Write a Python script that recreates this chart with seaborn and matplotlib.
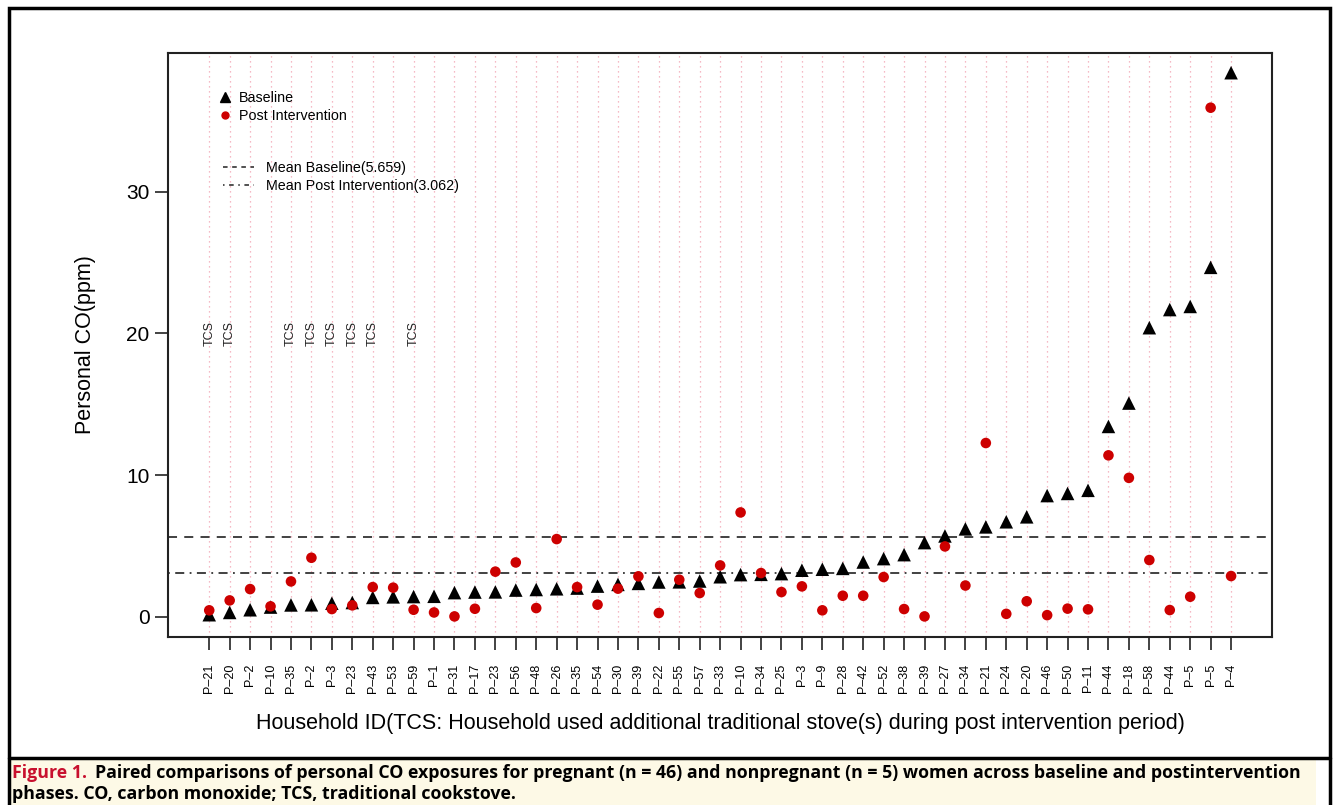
import matplotlib
matplotlib.use("Agg")
import matplotlib.pyplot as plt
import matplotlib.font_manager as fm
from matplotlib.lines import Line2D
from matplotlib.patches import Rectangle
import seaborn as sns
import pandas as pd

# household ids, ordered by baseline exposure
household_ids = ["P-21", "P-20", "P-2", "P-10", "P-35", "P-2", "P-3", "P-23", "P-43", "P-53",
                 "P-59", "P-1", "P-31", "P-17", "P-23", "P-56", "P-48", "P-26", "P-35", "P-54",
                 "P-30", "P-39", "P-22", "P-55", "P-57", "P-33", "P-10", "P-34", "P-25", "P-3",
                 "P-9", "P-28", "P-42", "P-52", "P-38", "P-39", "P-27", "P-34", "P-21", "P-24",
                 "P-20", "P-46", "P-50", "P-11", "P-44", "P-18", "P-58", "P-44", "P-5", "P-5", "P-4"]

# personal CO (ppm) at baseline
baseline = [0.14, 0.30, 0.49, 0.68, 0.83, 0.84, 0.95, 1.00, 1.36, 1.40,
            1.42, 1.44, 1.70, 1.74, 1.75, 1.88, 1.92, 1.97, 2.02, 2.16,
            2.28, 2.35, 2.45, 2.46, 2.52, 2.82, 2.97, 2.99, 3.04, 3.28,
            3.35, 3.41, 3.86, 4.10, 4.38, 5.23, 5.70, 6.20, 6.34, 6.70,
            7.05, 8.55, 8.70, 8.92, 13.43, 15.08, 20.40, 21.68, 21.90, 24.66, 38.40]

# personal CO (ppm) post intervention
post = [0.45, 1.15, 1.95, 0.73, 2.49, 4.16, 0.54, 0.80, 2.09, 2.05,
        0.49, 0.30, 0.02, 0.56, 3.18, 3.83, 0.61, 5.48, 2.09, 0.85,
        1.98, 2.85, 0.26, 2.61, 1.67, 3.62, 7.36, 3.08, 1.74, 2.14,
        0.45, 1.48, 1.48, 2.80, 0.54, 0.02, 4.96, 2.20, 12.26, 0.20,
        1.09, 0.11, 0.57, 0.52, 11.39, 9.80, 4.00, 0.47, 1.41, 35.93, 2.87]

# households that also used a traditional cookstove after the intervention
tcs_positions = [0, 1, 4, 5, 6, 7, 8, 10]

mean_baseline = 5.659
mean_post = 3.062

caption_head = "Figure 1."
caption_line1 = ("Paired comparisons of personal CO exposures for pregnant (n = 46) and nonpregnant "
                 "(n = 5) women across baseline and postintervention")
caption_line2 = "phases. CO, carbon monoxide; TCS, traditional cookstove."

sns.set_theme(style="white")
plt.rcParams["font.family"] = ["Liberation Sans", "DejaVu Sans"]
plt.rcParams["text.color"] = "black"
plt.rcParams["axes.labelcolor"] = "black"
plt.rcParams["xtick.color"] = "black"
plt.rcParams["ytick.color"] = "black"

installed = {f.name for f in fm.fontManager.ttflist}
caption_font = "DejaVu Sans"
for name in ["Liberation Sans Narrow", "Open Sans", "Liberation Sans"]:
    if name in installed:
        caption_font = name
        break

df = pd.DataFrame({"pos": range(len(household_ids)),
                   "baseline": baseline,
                   "post": post})

fig = plt.figure(figsize=(13.33, 8.05), dpi=100)
ax = fig.add_axes([0.1263, 0.2091, 0.9542 - 0.1263, 0.9345 - 0.2091])

# pink dotted guide line at every household
for p in df["pos"]:
    ax.axvline(p, color="#f2a3b3", lw=0.9, ls=(0, (1, 3)), zorder=0)

ax.axhline(mean_baseline, color="#333333", lw=1.3, ls=(0, (5, 4)), zorder=1)
ax.axhline(mean_post, color="#333333", lw=1.3, ls=(0, (1, 3, 5, 3)), zorder=1)

sns.scatterplot(data=df, x="pos", y="baseline", marker="^", s=95, color="black",
                edgecolor="none", ax=ax, zorder=3)
sns.scatterplot(data=df, x="pos", y="post", marker="o", s=58, color="#cd0000",
                edgecolor="none", ax=ax, zorder=3)

for p in tcs_positions:
    ax.text(p, 20, "TCS", rotation=90, ha="center", va="center", fontsize=9, color="#222222")

ax.set_xlim(-2, len(household_ids) + 1)
ax.set_ylim(-1.41, 39.81)
ax.set_xticks(df["pos"])
ax.set_xticklabels([h.replace("-", "\u2013") for h in household_ids], rotation=90, fontsize=9)
ax.set_yticks([0, 10, 20, 30])
ax.tick_params(axis="both", which="both", direction="out", length=9.5, width=1.2,
               color="#222222", bottom=True, left=True)
ax.tick_params(axis="x", pad=10)
ax.tick_params(axis="y", labelsize=15, pad=4)
for side in ax.spines.values():
    side.set_color("#222222")
    side.set_linewidth(1.5)

ax.set_xlabel("Household ID(TCS: Household used additional traditional stove(s) during post intervention period)",
              fontsize=15.5, labelpad=14)
ax.set_ylabel("Personal CO(ppm)", fontsize=15.5, labelpad=22)

marker_handles = [Line2D([], [], marker="^", color="black", ls="none", markersize=7),
                  Line2D([], [], marker="o", color="#cd0000", ls="none", markersize=5)]
leg1 = ax.legend(marker_handles, ["Baseline", "Post Intervention"], loc="upper left",
                 bbox_to_anchor=(0.033, 0.945), frameon=False, fontsize=10.3,
                 handletextpad=0.0, labelspacing=0.3, borderaxespad=0)
ax.add_artist(leg1)
line_handles = [Line2D([], [], color="#222222", lw=1.1, ls=(0, (3, 3))),
                Line2D([], [], color="#222222", lw=1.1, ls=(0, (1, 3, 3, 3)))]
ax.legend(line_handles, ["Mean Baseline(5.659)", "Mean Post Intervention(3.062)"],
          loc="upper left", bbox_to_anchor=(0.044, 0.825), frameon=False, fontsize=10.3,
          handlelength=2.2, handletextpad=0.8, labelspacing=0.3, borderaxespad=0)

# outer frame and caption strip
fig.patches.append(Rectangle((10 / 1333, 0), 1306 / 1333, 46 / 805, transform=fig.transFigure,
                             facecolor="#fdf9e6", edgecolor="none", zorder=0))
fig.patches.append(Rectangle((8.5 / 1333, -0.01), 1321.5 / 1333, 1.0 - 8.5 / 805 + 0.01,
                             transform=fig.transFigure, facecolor="none",
                             edgecolor="black", lw=2.5, zorder=5))
fig.lines.append(Line2D([8.5 / 1333, 1330 / 1333], [1 - 757.5 / 805, 1 - 757.5 / 805],
                        transform=fig.transFigure, color="black", lw=2.5, zorder=5))

renderer = fig.canvas.get_renderer()
head = fig.text(12 / 1333, 1 - 773 / 805, caption_head, color="#c8102e", fontsize=12.8,
                fontweight="bold", family=caption_font, va="center")
bb = head.get_window_extent(renderer=renderer)
fig.text((bb.x1 + 8) / 1333, 1 - 773 / 805, caption_line1, fontsize=12.8, fontweight="bold",
         family=caption_font, va="center")
fig.text(12 / 1333, 1 - 794 / 805, caption_line2, fontsize=12.8, fontweight="bold",
         family=caption_font, va="center")

fig.savefig("out.png", dpi=100)
